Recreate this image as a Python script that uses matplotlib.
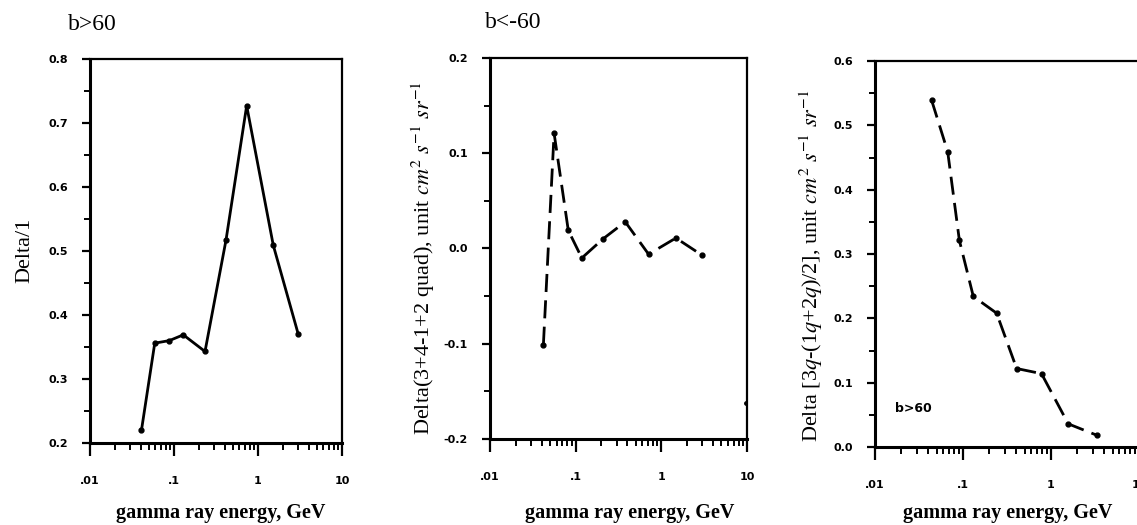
import matplotlib.pyplot as plt
from matplotlib.ticker import FixedLocator, NullFormatter, LogLocator

plt.rcParams['font.family'] = ['Liberation Serif', 'DejaVu Serif']
plt.rcParams['mathtext.fontset'] = 'stix'

# energias (GeV) y valores de cada panel
e1 = [0.041, 0.059, 0.088, 0.129, 0.234, 0.416, 0.733, 1.52, 3.0]
delta1 = [0.22, 0.356, 0.36, 0.369, 0.343, 0.517, 0.727, 0.509, 0.371]

e2 = [0.042, 0.056, 0.082, 0.118, 0.208, 0.379, 0.71, 1.48, 2.98]
delta2 = [-0.101, 0.121, 0.019, -0.010, 0.010, 0.028, -0.006, 0.011, -0.007]
e2_extra = [9.7]
delta2_extra = [-0.162]

e3 = [0.044, 0.067, 0.091, 0.131, 0.241, 0.407, 0.78, 1.57, 3.36]
delta3 = [0.539, 0.459, 0.321, 0.234, 0.208, 0.122, 0.114, 0.036, 0.018]

xticks = [0.01, 0.1, 1, 10]
xtick_labels = [".01", ".1", "1", "10"]

W, H = 1137, 525
fig = plt.figure(figsize=(W / 100, H / 100), dpi=100)


def px_axes(left, right, top, bottom):
    return fig.add_axes([left / W, 1 - bottom / H, (right - left) / W, (bottom - top) / H])


def estilo(ax, ylim, yticks, yminor):
    ax.set_xscale('log')
    ax.set_xlim(0.01, 10)
    ax.set_ylim(*ylim)
    ax.set_xticks(xticks)
    ax.set_xticklabels(xtick_labels)
    ax.xaxis.set_minor_locator(LogLocator(base=10, subs=range(2, 10)))
    ax.xaxis.set_minor_formatter(NullFormatter())
    ax.set_yticks(yticks)
    ax.set_yticklabels([f"{v:.1f}" for v in yticks])
    ax.yaxis.set_minor_locator(FixedLocator(yminor))
    ax.tick_params(which='major', direction='out', length=9, width=1.6,
                   labelsize=8, pad=15)
    ax.tick_params(which='minor', direction='out', length=5, width=1.4)
    ax.tick_params(axis='y', which='major', length=6, pad=10)
    ax.tick_params(axis='y', which='minor', length=4)
    for lab in ax.get_xticklabels() + ax.get_yticklabels():
        lab.set_fontweight('bold')
        lab.set_family('DejaVu Sans')
    for s in ax.spines.values():
        s.set_linewidth(1.6)
    ax.spines['left'].set_linewidth(2.2)
    ax.spines['bottom'].set_linewidth(2.2)


# panel 1
ax1 = px_axes(90, 342, 59, 443)
ax1.plot(e1, delta1, color='black', lw=2.0, marker='o', ms=3.5)
estilo(ax1, (0.2, 0.8), [0.2, 0.3, 0.4, 0.5, 0.6, 0.7, 0.8],
       [0.25, 0.35, 0.45, 0.55, 0.65, 0.75])

# panel 2
ax2 = px_axes(490, 747, 58, 439)
ax2.plot(e2, delta2, color='black', lw=2.0, marker='o', ms=3.5,
         linestyle=(0, (6.5, 3.0)))
ax2.plot(e2_extra, delta2_extra, color='black', marker='o', ms=2.5, lw=0)
estilo(ax2, (-0.2, 0.2), [-0.2, -0.1, 0.0, 0.1, 0.2],
       [-0.15, -0.05, 0.05, 0.15])

# panel 3 (se sale por la derecha como en el original)
ax3 = px_axes(875, 1139, 61, 447)
ax3.plot(e3, delta3, color='black', lw=2.0, marker='o', ms=3.5,
         linestyle=(0, (6.5, 3.0)))
estilo(ax3, (0.0, 0.6), [0.0, 0.1, 0.2, 0.3, 0.4, 0.5, 0.6],
       [0.05, 0.15, 0.25, 0.35, 0.45, 0.55])
ax3.text(0.076, 0.10, "b>60", transform=ax3.transAxes, fontsize=9,
         fontweight='bold', family='DejaVu Sans', va='center')

# textos
fig.text(92 / W, 1 - 25 / H, "b>60", fontsize=17, ha='center', va='center')
fig.text(513 / W, 1 - 23 / H, "b<-60", fontsize=17, ha='center', va='center')

fig.text(25 / W, 1 - 250 / H, "Delta/1", fontsize=16, rotation=90,
         ha='center', va='center')
fig.text(423 / W, 1 - 258 / H,
         r"Delta(3+4-1+2 quad), unit $\mathit{cm}^2\ \mathit{s}^{-1}\ \mathit{sr}^{-1}$",
         fontsize=16, rotation=90, ha='center', va='center')
fig.text(811 / W, 1 - 266 / H,
         r"Delta [3$\mathit{q}$-(1$\mathit{q}$+2$\mathit{q}$)/2], unit $\mathit{cm}^2\ \mathit{s}^{-1}\ \mathit{sr}^{-1}$",
         fontsize=16, rotation=90, ha='center', va='center')

for xc in (221, 630, 1008):
    fig.text(xc / W, 1 - 513 / H, "gamma ray energy, GeV", fontsize=14.5,
             fontweight='bold', ha='center', va='center')

fig.savefig("out.png", dpi=100)
